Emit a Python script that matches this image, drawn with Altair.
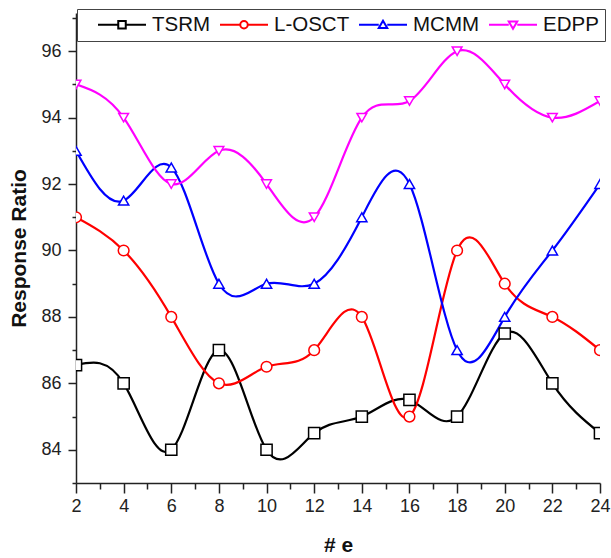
import altair as alt
import pandas as pd

# ---- data ----
x_vals = [2, 4, 6, 8, 10, 12, 14, 16, 18, 20, 22, 24]
series_names = ["TSRM", "L-OSCT", "MCMM", "EDPP"]
tsrm = [86.55, 86.0, 84.0, 87.0, 84.0, 84.5, 85.0, 85.5, 85.0, 87.5, 86.0, 84.5]
losct = [91.0, 90.0, 88.0, 86.0, 86.5, 87.0, 88.0, 85.0, 90.0, 89.0, 88.0, 87.0]
mcmm = [93.0, 91.5, 92.5, 89.0, 89.0, 89.0, 91.0, 92.0, 87.0, 88.0, 90.0, 92.0]
edpp = [95.0, 94.0, 92.0, 93.0, 92.0, 91.0, 94.0, 94.5, 96.0, 95.0, 94.0, 94.5]

colors = ["#000000", "#FF0000", "#0000FF", "#FF00FF"]
marker_shapes = ["square", "circle", "triangle-up", "triangle-down"]
marker_sizes = [125, 95, 140, 140]
# legend symbols: line segment + open marker (unit = sqrt(size)/2 px)
legend_paths = [
    "M-4.8,0L-0.75,0M-0.75,-0.75L0.75,-0.75L0.75,0.75L-0.75,0.75ZM0.75,0L4.8,0",
    "M-4.8,0L-0.75,0M0.75,0A0.75,0.75 0 1,1 -0.75,0A0.75,0.75 0 1,1 0.75,0M0.75,0L4.8,0",
    "M-4.8,0L-0.85,0M0,-0.8L0.85,0.65L-0.85,0.65ZM0.85,0L4.8,0",
    "M-4.8,0L-0.85,0M-0.85,-0.65L0.85,-0.65L0,0.8ZM0.85,0L4.8,0",
]

x_major = list(range(2, 25, 2))
x_minor = list(range(3, 24, 2))
y_major = list(range(84, 97, 2))
y_minor = list(range(83, 98, 2))

rows = []
for name, vals in zip(series_names, [tsrm, losct, mcmm, edpp]):
    for xv, yv in zip(x_vals, vals):
        rows.append({"e": xv, "ratio": yv, "series": name})
df = pd.DataFrame(rows)

FONT = "Liberation Sans"
xscale = alt.Scale(domain=[2, 24], nice=False, zero=False)
yscale = alt.Scale(domain=[83, 97.15], nice=False, zero=False)

x_major_axis = alt.Axis(
    values=x_major, tickSize=10, tickWidth=1.5, tickColor="#222",
    domainColor="#222", domainWidth=1.5, grid=False,
    labelFont=FONT, labelFontSize=18, labelColor="#222", labelPadding=4,
    labelFlush=False, labelOverlap=False,
    title="# e", titleFont=FONT, titleFontSize=21, titleFontWeight="bold",
    titleColor="#111", titleX=262, titleY=68, titleBaseline="alphabetic",
    titleAlign="center",
)
x_minor_axis = alt.Axis(
    values=x_minor, tickSize=6, tickWidth=1.5, tickColor="#222",
    labels=False, domain=False, grid=False, title=None, orient="bottom",
)
y_major_axis = alt.Axis(
    values=y_major, tickSize=8, tickWidth=1.5, tickColor="#222",
    domainColor="#222", domainWidth=1.5, grid=False,
    labelFont=FONT, labelFontSize=18, labelColor="#222", labelPadding=7,
    labelFlush=False, labelOverlap=False,
    title="Response Ratio", titleFont=FONT, titleFontSize=21,
    titleFontWeight="bold", titleColor="#111", titleAngle=270,
    titleX=-51, titleY=235, titleBaseline="alphabetic", titleAlign="center",
    orient="left",
)
y_minor_axis = alt.Axis(
    values=y_minor, tickSize=4, tickWidth=1.5, tickColor="#222",
    labels=False, domain=False, grid=False, title=None, orient="left",
)

color_scale = alt.Scale(domain=series_names, range=colors)

base = alt.Chart(df)

lines = base.mark_line(interpolate="natural", strokeWidth=2.2, clip=True).encode(
    x=alt.X("e:Q", scale=xscale, axis=x_major_axis),
    y=alt.Y("ratio:Q", scale=yscale, axis=y_major_axis),
    color=alt.Color("series:N", scale=color_scale, legend=None),
)

points = base.mark_point(
    filled=False, fill="white", strokeWidth=1.5, opacity=1, clip=True
).encode(
    x=alt.X("e:Q", scale=xscale, axis=x_minor_axis),
    y=alt.Y("ratio:Q", scale=yscale, axis=y_minor_axis),
    color=alt.Color("series:N", scale=color_scale, legend=None),
    shape=alt.Shape("series:N", scale=alt.Scale(domain=series_names, range=marker_shapes), legend=None),
    size=alt.Size("series:N", scale=alt.Scale(domain=series_names, range=marker_sizes), legend=None),
)

leg = alt.Legend(
    orient="none", legendX=1, legendY=-4, direction="horizontal", columns=4,
    gridAlign="none",
    title=None, labelFont=FONT, labelFontSize=20.5, labelColor="#111",
    labelExpr="datum.label == 'EDPP' ? 'EDPP ' : datum.label",
    symbolSize=100, symbolStrokeWidth=2, symbolOffset=29.25, labelOffset=19.75,
    columnPadding=-6, padding=5.5, strokeColor="#444", fillColor="white",
    labelLimit=0,
)

legend_layer = base.transform_filter("false").mark_point(
    filled=False, strokeWidth=2, opacity=1
).encode(
    x=alt.X("e:Q", scale=xscale, axis=None),
    y=alt.Y("ratio:Q", scale=yscale, axis=None),
    color=alt.Color("series:N", scale=color_scale, legend=leg),
    shape=alt.Shape("series:N", scale=alt.Scale(domain=series_names, range=legend_paths), legend=leg),
)

chart = alt.layer(lines, points, legend_layer).resolve_axis(
    x="independent", y="independent"
).resolve_scale(
    color="independent", shape="independent", size="independent"
).properties(
    width=524, height=470,
    padding={"left": 76, "top": 13, "right": 11, "bottom": 75},
    autosize=alt.AutoSizeParams(type="none"),
    background="white",
).configure_view(stroke=None)

chart.save("out.html", embed_options={"renderer": "svg", "actions": False})
